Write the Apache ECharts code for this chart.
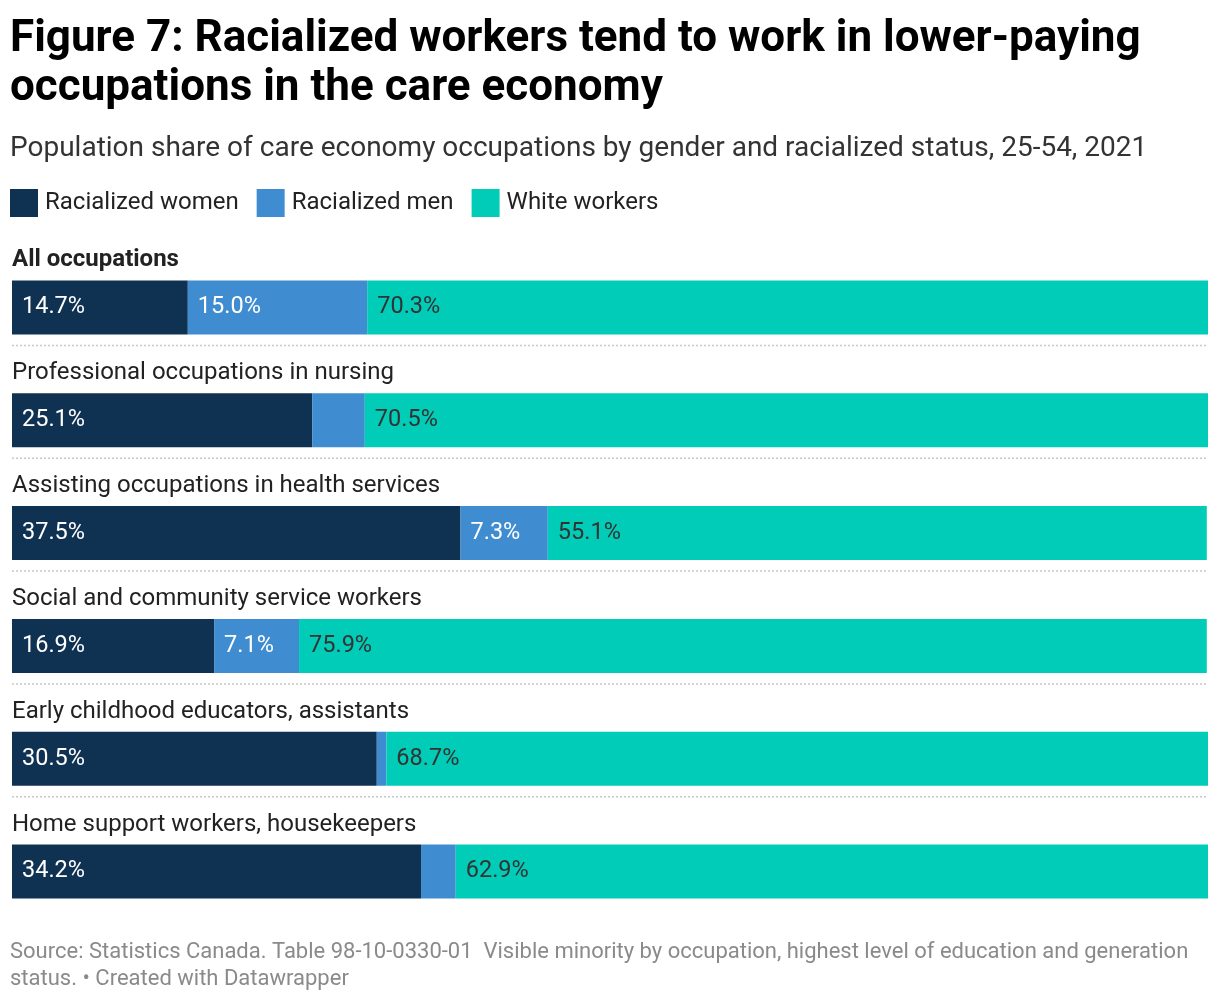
<!DOCTYPE html>
<html>
<head>
<meta charset="utf-8">
<script src="https://cdn.jsdelivr.net/npm/echarts@6/dist/echarts.min.js"></script>
<style>
  html, body { margin: 0; padding: 0; background: #fff; }
  #chart { width: 1220px; height: 1000px; }
</style>
</head>
<body>
<div id="chart"></div>
<script>
var categories = [
  "All occupations",
  "Professional occupations in nursing",
  "Assisting occupations in health services",
  "Social and community service workers",
  "Early childhood educators, assistants",
  "Home support workers, housekeepers"
];
var racializedWomen = [14.7, 25.1, 37.5, 16.9, 30.5, 34.2];
var racializedMen = [15.0, 4.4, 7.3, 7.1, 0.8, 2.9];
var whiteWorkers = [70.3, 70.5, 55.1, 75.9, 68.7, 62.9];

var font = "Roboto, 'Noto Sans', sans-serif";
var myChart = echarts.init(document.getElementById("chart"));

// labels only on segments wide enough to hold them
function pct(p) {
  return p.value >= 5 ? p.value.toFixed(1) + "%" : "";
}

function barSeries(name, data, color, labelColor) {
  return {
    name: name,
    type: "bar",
    stack: "total",
    barWidth: 54,
    data: data,
    itemStyle: { color: color },
    label: {
      show: true,
      position: "insideLeft",
      distance: 10,
      color: labelColor,
      fontFamily: font,
      fontSize: 23.5,
      formatter: pct
    },
    emphasis: { disabled: true }
  };
}

var option = {
  animation: false,
  textStyle: { fontFamily: font },
  title: [
    {
      text: "Figure 7: Racialized workers tend to work in lower-paying\noccupations in the care economy",
      left: 10,
      top: 15,
      padding: 0,
      textStyle: { fontSize: 44, fontWeight: "bold", color: "#000", lineHeight: 49, fontFamily: font }
    },
    {
      text: "Population share of care economy occupations by gender and racialized status, 25-54, 2021",
      left: 10,
      top: 135,
      padding: 0,
      textStyle: { fontSize: 28, fontWeight: "normal", color: "#333", fontFamily: font }
    },
    {
      text: "Source: Statistics Canada. Table 98-10-0330-01  Visible minority by occupation, highest level of education and generation\nstatus. • Created with Datawrapper",
      left: 10,
      top: 939,
      padding: 0,
      textStyle: { fontSize: 22, fontWeight: "normal", color: "#8a8a8a", lineHeight: 27, fontFamily: font }
    }
  ],
  legend: {
    left: 10,
    top: 189,
    padding: 0,
    icon: "rect",
    itemWidth: 28,
    itemHeight: 28,
    itemGap: 18,
    selectedMode: false,
    textStyle: { fontSize: 24, color: "#222", fontFamily: font, padding: [0, 0, 0, 2] },
    data: ["Racialized women", "Racialized men", "White workers"]
  },
  grid: { left: 12, right: 12, top: 251, height: 677 },
  xAxis: { type: "value", min: 0, max: 100, show: false },
  yAxis: {
    type: "category",
    inverse: true,
    data: categories,
    axisLine: { show: false },
    axisTick: { show: false },
    axisLabel: {
      inside: true,
      margin: 0,
      interval: 0,
      verticalAlign: "middle",
      padding: [0, 0, 94, 0],
      formatter: function (v, i) {
        return (i === 0 ? "{b|" : "{n|") + v + "}";
      },
      rich: {
        b: { fontSize: 24, fontWeight: "bold", color: "#222", fontFamily: font },
        n: { fontSize: 24, color: "#222", fontFamily: font }
      }
    }
  },
  series: [
    barSeries("Racialized women", racializedWomen, "#103252", "#fff"),
    barSeries("Racialized men", racializedMen, "#3f8cd0", "#fff"),
    barSeries("White workers", whiteWorkers, "#00ccb7", "#333")
  ]
};

myChart.setOption(option);

// dotted separators below each bar except the last
var lines = [];
for (var i = 0; i < categories.length - 1; i++) {
  var y = myChart.convertToPixel({ yAxisIndex: 0 }, categories[i]) + 38;
  lines.push({
    type: "line",
    shape: { x1: 12, y1: y, x2: 1208, y2: y },
    style: { stroke: "#c8c8c8", lineWidth: 1.5, lineDash: [2, 2] },
    silent: true
  });
}
myChart.setOption({ graphic: lines });
</script>
</body>
</html>
